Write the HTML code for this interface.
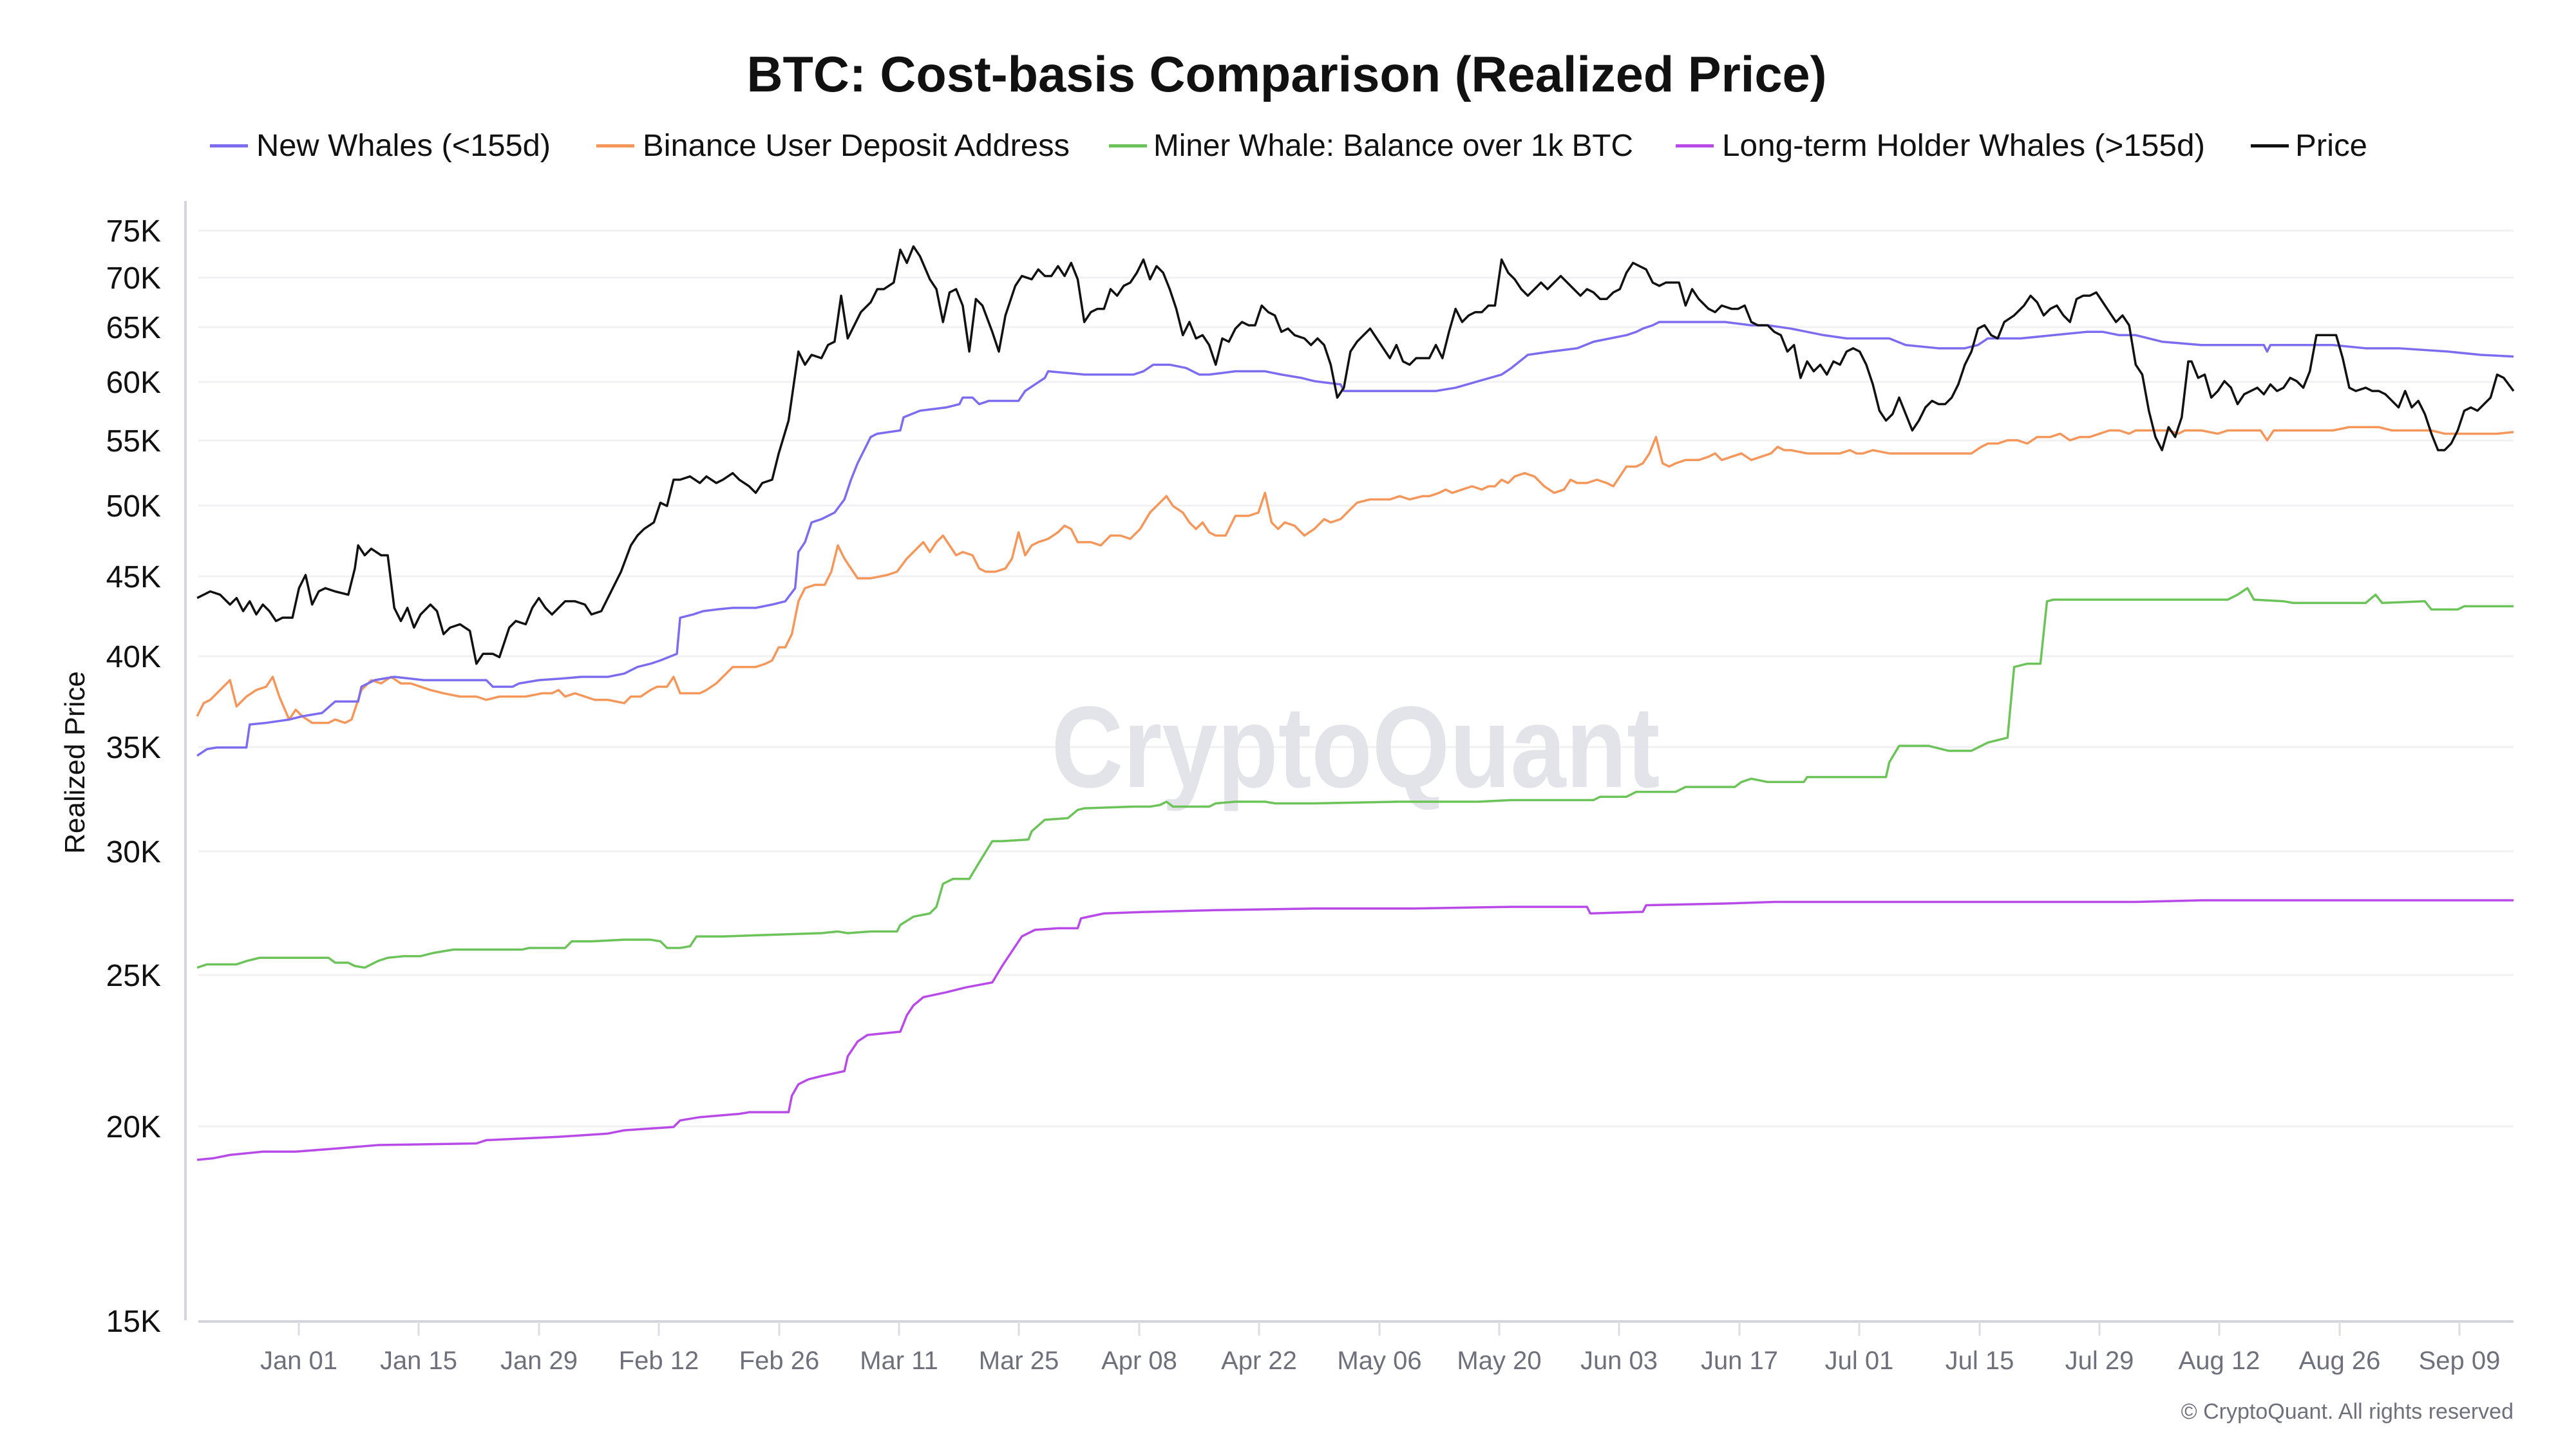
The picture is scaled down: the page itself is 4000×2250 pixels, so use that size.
<!DOCTYPE html>
<html><head><meta charset="utf-8"><style>
html,body{margin:0;padding:0;background:#fff;}
svg{display:block;}
text{font-family:"Liberation Sans",sans-serif;}
</style></head><body>
<svg width="4000" height="2250" viewBox="0 0 4000 2250" xmlns="http://www.w3.org/2000/svg">
<rect width="4000" height="2250" fill="#fff"/>
<text x="1998" y="142" text-anchor="middle" font-size="78" font-weight="bold" fill="#111" textLength="1677" lengthAdjust="spacingAndGlyphs">BTC: Cost-basis Comparison (Realized Price)</text>
<g font-size="48" fill="#111">
<rect x="326" y="224" width="59" height="5" fill="#7b6cf0"/><text x="398" y="242" textLength="457" lengthAdjust="spacingAndGlyphs">New Whales (&lt;155d)</text>
<rect x="926" y="224" width="59" height="5" fill="#f5965a"/><text x="998" y="242" textLength="663" lengthAdjust="spacingAndGlyphs">Binance User Deposit Address</text>
<rect x="1722" y="224" width="59" height="5" fill="#6cc35a"/><text x="1791" y="242" textLength="745" lengthAdjust="spacingAndGlyphs">Miner Whale: Balance over 1k BTC</text>
<rect x="2602" y="224" width="59" height="5" fill="#b84be8"/><text x="2674" y="242" textLength="750" lengthAdjust="spacingAndGlyphs">Long-term Holder Whales (&gt;155d)</text>
<rect x="3495" y="224" width="59" height="5" fill="#111"/><text x="3564" y="242" textLength="112" lengthAdjust="spacingAndGlyphs">Price</text>
</g>
<g stroke="#f1f1f3" stroke-width="3">
<line x1="308" x2="3903" y1="358" y2="358"/><line x1="308" x2="3903" y1="431" y2="431"/><line x1="308" x2="3903" y1="508" y2="508"/><line x1="308" x2="3903" y1="593" y2="593"/><line x1="308" x2="3903" y1="684" y2="684"/><line x1="308" x2="3903" y1="785" y2="785"/><line x1="308" x2="3903" y1="895" y2="895"/><line x1="308" x2="3903" y1="1019" y2="1019"/><line x1="308" x2="3903" y1="1160" y2="1160"/><line x1="308" x2="3903" y1="1322" y2="1322"/><line x1="308" x2="3903" y1="1514" y2="1514"/><line x1="308" x2="3903" y1="1749" y2="1749"/>
</g>
<line x1="288" y1="312" x2="288" y2="2050" stroke="#d4d4dc" stroke-width="4"/>
<line x1="308" y1="2052" x2="3903" y2="2052" stroke="#d4d4dc" stroke-width="4"/>
<g font-size="48" fill="#111" text-anchor="end">
<text x="250" y="375">75K</text><text x="250" y="448">70K</text><text x="250" y="525">65K</text><text x="250" y="610">60K</text><text x="250" y="701">55K</text><text x="250" y="802">50K</text><text x="250" y="912">45K</text><text x="250" y="1036">40K</text><text x="250" y="1177">35K</text><text x="250" y="1339">30K</text><text x="250" y="1531">25K</text><text x="250" y="1766">20K</text><text x="250" y="2068">15K</text>
</g>
<text transform="translate(131,1184) rotate(-90)" text-anchor="middle" font-size="44" fill="#111">Realized Price</text>
<g stroke="#dcdce2" stroke-width="3">
<line x1="464" x2="464" y1="2052" y2="2074"/><line x1="650" x2="650" y1="2052" y2="2074"/><line x1="837" x2="837" y1="2052" y2="2074"/><line x1="1023" x2="1023" y1="2052" y2="2074"/><line x1="1210" x2="1210" y1="2052" y2="2074"/><line x1="1396" x2="1396" y1="2052" y2="2074"/><line x1="1582" x2="1582" y1="2052" y2="2074"/><line x1="1769" x2="1769" y1="2052" y2="2074"/><line x1="1955" x2="1955" y1="2052" y2="2074"/><line x1="2142" x2="2142" y1="2052" y2="2074"/><line x1="2328" x2="2328" y1="2052" y2="2074"/><line x1="2514" x2="2514" y1="2052" y2="2074"/><line x1="2701" x2="2701" y1="2052" y2="2074"/><line x1="2887" x2="2887" y1="2052" y2="2074"/><line x1="3074" x2="3074" y1="2052" y2="2074"/><line x1="3260" x2="3260" y1="2052" y2="2074"/><line x1="3446" x2="3446" y1="2052" y2="2074"/><line x1="3633" x2="3633" y1="2052" y2="2074"/><line x1="3819" x2="3819" y1="2052" y2="2074"/>
</g>
<g font-size="40" fill="#70707c" text-anchor="middle">
<text x="464" y="2126">Jan 01</text><text x="650" y="2126">Jan 15</text><text x="837" y="2126">Jan 29</text><text x="1023" y="2126">Feb 12</text><text x="1210" y="2126">Feb 26</text><text x="1396" y="2126">Mar 11</text><text x="1582" y="2126">Mar 25</text><text x="1769" y="2126">Apr 08</text><text x="1955" y="2126">Apr 22</text><text x="2142" y="2126">May 06</text><text x="2328" y="2126">May 20</text><text x="2514" y="2126">Jun 03</text><text x="2701" y="2126">Jun 17</text><text x="2887" y="2126">Jul 01</text><text x="3074" y="2126">Jul 15</text><text x="3260" y="2126">Jul 29</text><text x="3446" y="2126">Aug 12</text><text x="3633" y="2126">Aug 26</text><text x="3819" y="2126">Sep 09</text>
</g>
<text x="3903" y="2203" text-anchor="end" font-size="34" fill="#70707c">© CryptoQuant. All rights reserved</text>
<text x="2105" y="1222" text-anchor="middle" font-size="180" font-weight="bold" fill="#e3e3ea" textLength="945" lengthAdjust="spacingAndGlyphs">CryptoQuant</text>
<svg x="0" y="0" width="4000" height="2250" viewBox="0 0 1568 882" preserveAspectRatio="none">
<g fill="none" stroke-linejoin="round" stroke-width="3.5">
<polyline vector-effect="non-scaling-stroke" stroke="#b84be8" points="120,706 130,705 140,703 150,702 160,701 180,701 206,699 230,697 290,696 296,694 340,692 370,690 380,688 410,686 414,682 426,680 450,678 456,677 480,677 482,667 486,660 492,657 500,655 514,652 516,643 522,634 528,630 548,628 552,618 556,612 562,607 576,604 588,601 604,598 610,588 614,582 622,570 630,566 644,565 656,565 658,559 672,556 700,555 740,554 800,553 860,553 920,552 966,552 968,556 1000,555 1002,551 1050,550 1080,549 1150,549 1200,549 1300,549 1340,548 1400,548 1530,548"/>
<polyline vector-effect="non-scaling-stroke" stroke="#6cc35a" points="120,589 126,587 132,587 144,587 150,585 158,583 170,583 190,583 200,583 204,586 212,586 216,588 222,589 230,585 236,583 246,582 256,582 264,580 276,578 290,578 318,578 322,577 330,577 344,577 348,573 360,573 380,572 396,572 402,573 406,577 414,577 420,576 424,570 440,570 470,569 500,568 510,567 516,568 530,567 546,567 548,563 556,558 566,556 570,552 574,538 580,535 590,535 596,525 604,512 610,512 626,511 628,506 636,499 650,498 656,493 660,492 690,491 700,491 706,490 710,488 714,491 720,491 736,491 740,489 752,488 770,488 776,489 800,489 850,488 900,488 920,487 970,487 974,485 990,485 996,482 1020,482 1026,479 1056,479 1060,476 1066,474 1076,476 1098,476 1100,473 1148,473 1150,464 1156,454 1174,454 1186,457 1200,457 1210,452 1222,449 1226,406 1234,404 1242,404 1246,366 1250,365 1300,365 1356,365 1362,362 1368,358 1372,365 1390,366 1396,367 1440,367 1446,362 1450,367 1476,366 1480,371 1496,371 1500,369 1530,369"/>
<polyline vector-effect="non-scaling-stroke" stroke="#f5965a" points="120,436 124,428 128,426 134,420 140,414 144,430 150,424 156,420 162,418 166,412 170,424 176,438 180,432 184,436 190,440 196,440 200,440 204,438 210,440 214,438 220,420 226,414 232,416 238,412 244,416 250,416 256,418 262,420 270,422 280,424 290,424 296,426 304,424 312,424 320,424 330,422 336,422 340,420 344,424 350,422 356,424 362,426 370,426 380,428 384,424 390,424 396,420 400,418 406,418 410,412 414,422 420,422 426,422 430,420 436,416 446,406 460,406 466,404 470,402 474,394 478,394 482,386 486,366 490,358 496,356 502,356 506,348 510,332 514,340 518,346 522,352 530,352 540,350 546,348 552,340 556,336 562,330 566,336 570,330 574,326 578,332 582,338 586,336 592,338 596,346 600,348 606,348 612,346 616,340 620,324 624,338 628,332 632,330 638,328 644,324 648,320 652,322 656,330 664,330 670,332 676,326 682,326 688,328 694,322 700,312 706,306 710,302 714,308 720,312 724,318 728,322 732,318 736,324 740,326 746,326 752,314 760,314 766,312 770,300 774,318 778,322 782,318 788,320 794,326 800,322 806,316 810,318 816,316 822,310 826,306 834,304 840,304 846,304 852,302 858,304 866,302 870,302 876,300 880,298 884,300 890,298 896,296 902,298 906,296 910,296 914,292 918,294 922,290 928,288 934,290 940,296 946,300 952,298 956,292 960,294 966,294 972,292 978,294 982,296 986,290 990,284 996,284 1000,282 1004,276 1008,266 1012,282 1016,284 1020,282 1026,280 1034,280 1040,278 1044,276 1048,280 1054,278 1060,276 1066,280 1072,278 1078,276 1082,272 1086,274 1090,274 1100,276 1110,276 1120,276 1126,274 1130,276 1134,276 1140,274 1150,276 1160,276 1170,276 1180,276 1190,276 1196,276 1200,276 1206,272 1210,270 1216,270 1222,268 1228,268 1234,270 1240,266 1248,266 1254,264 1260,268 1266,266 1272,266 1278,264 1284,262 1290,262 1296,264 1300,262 1310,262 1320,262 1326,264 1330,262 1340,262 1350,264 1356,262 1366,262 1372,262 1376,262 1380,268 1384,262 1390,262 1400,262 1410,262 1420,262 1430,260 1440,260 1448,260 1456,262 1464,262 1472,262 1480,262 1488,264 1496,264 1504,264 1512,264 1520,264 1530,263"/>
<polyline vector-effect="non-scaling-stroke" stroke="#7b6cf0" points="120,460 126,456 132,455 150,455 152,441 162,440 176,438 184,436 196,434 204,427 218,427 220,418 228,414 240,412 258,414 264,414 296,414 300,418 312,418 316,416 328,414 342,413 354,412 370,412 380,410 388,406 396,404 402,402 412,398 414,376 422,374 428,372 436,371 446,370 460,370 470,368 478,366 484,358 486,336 490,330 494,318 500,316 508,312 514,304 518,292 522,282 526,274 530,266 534,264 548,262 550,254 560,250 576,248 584,246 586,242 592,242 596,246 602,244 620,244 624,238 630,234 636,230 638,226 660,228 690,228 696,226 702,222 712,222 722,224 730,228 736,228 752,226 770,226 780,228 792,230 800,232 816,234 818,238 840,238 856,238 874,238 886,236 900,232 914,228 920,224 930,216 944,214 960,212 970,208 980,206 990,204 996,202 1000,200 1006,198 1010,196 1050,196 1066,198 1076,198 1090,200 1100,202 1110,204 1124,206 1138,206 1150,206 1160,210 1180,212 1196,212 1204,210 1210,206 1230,206 1250,204 1270,202 1280,202 1290,204 1300,204 1316,208 1340,210 1360,210 1378,210 1380,214 1382,210 1400,210 1420,210 1440,212 1460,212 1490,214 1510,216 1530,217"/>
<polyline vector-effect="non-scaling-stroke" stroke="#111" points="120,364 128,360 134,362 140,368 144,364 148,372 152,366 156,374 160,368 164,372 168,378 172,376 178,376 182,358 186,350 190,368 194,360 198,358 204,360 212,362 216,346 218,332 222,338 226,334 232,338 236,338 240,370 244,378 248,370 252,382 256,374 262,368 266,372 270,386 274,382 280,380 286,384 290,404 294,398 300,398 304,400 310,382 314,378 320,380 324,370 328,364 332,370 336,374 340,370 344,366 350,366 356,368 360,374 366,372 372,360 378,348 384,332 388,326 392,322 398,318 402,306 406,308 410,292 414,292 420,290 426,294 430,290 436,294 440,292 446,288 450,292 456,296 460,300 464,294 470,292 474,276 480,256 484,228 486,214 490,222 494,216 500,218 504,210 508,208 512,180 516,206 520,198 524,190 530,184 534,176 538,176 544,172 548,152 552,160 556,150 560,156 566,170 570,176 574,196 578,178 582,176 586,186 590,214 594,182 598,186 604,202 608,214 612,192 618,174 622,168 628,170 632,164 636,168 640,168 644,162 648,168 652,160 656,170 660,196 664,190 668,188 672,188 676,176 680,180 684,174 688,172 692,166 696,158 700,170 704,162 708,166 712,176 716,188 720,204 724,196 728,206 732,204 736,210 740,222 744,206 748,208 752,200 756,196 760,198 764,198 768,186 772,190 776,192 780,202 784,200 788,204 794,206 798,210 802,206 806,210 810,222 814,242 818,236 822,214 826,208 830,204 834,200 838,206 842,212 846,218 850,210 854,220 858,222 862,218 866,218 870,218 874,210 878,218 882,202 886,188 890,196 894,192 898,190 902,190 906,186 910,186 914,158 918,166 922,170 926,176 930,180 934,176 938,172 942,176 946,172 950,168 954,172 958,176 962,180 966,176 970,178 974,182 978,182 982,178 986,176 990,166 994,160 998,162 1002,164 1006,172 1010,174 1014,172 1018,172 1022,172 1026,186 1030,176 1034,182 1040,188 1044,190 1048,186 1054,188 1058,188 1062,186 1066,196 1070,198 1076,198 1080,202 1084,204 1088,214 1092,210 1096,230 1100,220 1104,226 1108,222 1112,228 1116,220 1120,222 1124,214 1128,212 1132,214 1136,222 1140,234 1144,250 1148,256 1152,252 1156,242 1160,252 1164,262 1168,256 1172,248 1176,244 1180,246 1184,246 1188,242 1192,234 1196,222 1200,214 1204,200 1208,198 1212,204 1216,206 1220,196 1226,192 1232,186 1236,180 1240,184 1244,192 1248,188 1252,186 1256,192 1260,196 1264,182 1268,180 1272,180 1276,178 1280,184 1284,190 1288,196 1292,192 1296,198 1300,222 1304,228 1308,250 1312,266 1316,274 1320,260 1324,266 1328,254 1332,220 1334,220 1338,230 1342,228 1346,242 1350,238 1354,232 1358,236 1362,246 1366,240 1370,238 1374,236 1378,240 1382,234 1386,238 1390,236 1394,230 1398,232 1402,236 1406,226 1410,204 1414,204 1418,204 1422,204 1426,218 1430,236 1434,238 1440,236 1444,238 1448,238 1452,240 1456,244 1460,248 1464,238 1468,248 1472,244 1476,252 1480,264 1484,274 1488,274 1492,270 1496,262 1500,250 1504,248 1508,250 1512,246 1516,242 1520,228 1524,230 1530,238"/>
</g>
</svg>
</svg>
</body></html>
